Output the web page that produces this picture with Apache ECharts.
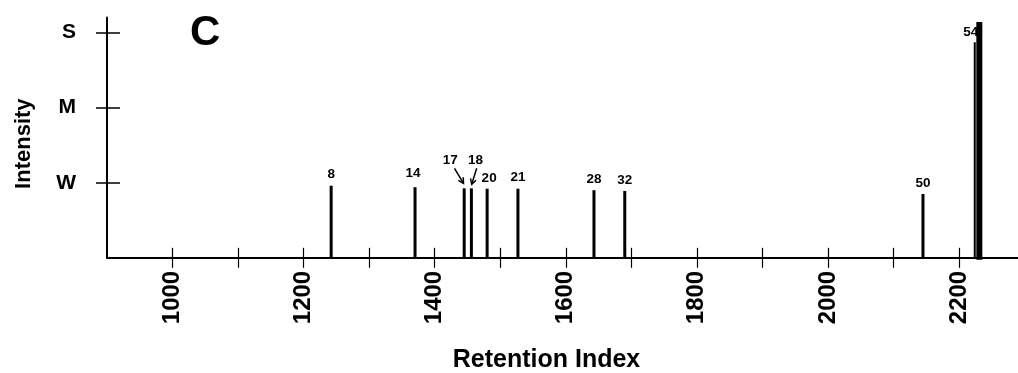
<!DOCTYPE html>
<html>
<head>
<meta charset="utf-8">
<script src="https://cdn.jsdelivr.net/npm/echarts@6/dist/echarts.min.js"></script>
<style>
html,body{margin:0;padding:0;background:#fff;}
#chart{width:1018px;height:373px;}
</style>
</head>
<body>
<div id="chart"></div>
<script>
// ---- data ----
const peakIds        = ['8', '14', '17', '18', '20', '21', '28', '32', '50', '54'];
const retentionIndex = [1242, 1370, 1445, 1456, 1480, 1527, 1643, 1690, 2145, 2224];
const intensity      = [0.96, 0.94, 0.925, 0.925, 0.92, 0.92, 0.90, 0.89, 0.85, 2.87];
const bandRI         = [2231];
const bandIntensity  = [3.14];
const intensityLevels = [1, 2, 3];
const intensityNames  = ['W', 'M', 'S'];
const xTickValues  = [1000, 1100, 1200, 1300, 1400, 1500, 1600, 1700, 1800, 1900, 2000, 2100, 2200];
const xLabelValues = [1000, 1200, 1400, 1600, 1800, 2000, 2200];

// ---- styling of peak labels ----
const labelLayout = {
  '17': { dx: -14, dy: -28, arrow: [-9.7, -20, -0.7, -5] },
  '18': { dx: 4, dy: -28, arrow: [5.3, -20, 0.3, -4] },
  '20': { dx: 2, dy: -10 },
  '14': { dx: -2, dy: -14 },
  '54': { dx: -4, dy: -10, w: 2 }
};
const FONT = '"Liberation Sans", Arial, Helvetica, sans-serif';

function renderPeak(params, api) {
  const i = params.dataIndex;
  const x = api.value(0), y = api.value(1);
  const base = api.coord([x, 0]);
  const top = api.coord([x, y]);
  const id = peakIds[i];
  const lay = labelLayout[id] || {};
  const dx = lay.dx !== undefined ? lay.dx : 0;
  const dy = lay.dy !== undefined ? lay.dy : -11;
  const children = [
    { type: 'line', shape: { x1: base[0], y1: base[1], x2: top[0], y2: top[1] },
      style: { stroke: '#000', lineWidth: lay.w || 3 } },
    { type: 'text', x: top[0] + dx, y: top[1] + dy,
      style: { text: id, font: 'bold 13.5px ' + FONT, fill: '#000', align: 'center', verticalAlign: 'middle' } }
  ];
  if (lay.arrow) {
    const [a1, b1, a2, b2] = lay.arrow;
    const x1 = top[0] + a1, y1 = top[1] + b1, x2 = top[0] + a2, y2 = top[1] + b2;
    const ang = Math.atan2(y2 - y1, x2 - x1);
    const L = 6, h = 0.5;
    children.push({ type: 'line', shape: { x1, y1, x2, y2 }, style: { stroke: '#000', lineWidth: 1.5 } });
    children.push({ type: 'polyline', shape: { points: [
      [x2 - L * Math.cos(ang - h), y2 - L * Math.sin(ang - h)],
      [x2, y2],
      [x2 - L * Math.cos(ang + h), y2 - L * Math.sin(ang + h)]
    ] }, style: { stroke: '#000', lineWidth: 1.5, fill: null } });
  }
  return { type: 'group', children };
}

function renderBand(params, api) {
  const x = api.value(0), y = api.value(1);
  const base = api.coord([x, 0]);
  const top = api.coord([x, y]);
  return { type: 'rect', shape: { x: base[0] - 3, y: top[1], width: 6, height: base[1] - top[1] + 2 },
           style: { fill: '#000' } };
}

const chart = echarts.init(document.getElementById('chart'), null, { renderer: 'canvas' });
const xCommon = { type: 'value', min: 900, max: 2290, interval: 100, splitLine: { show: false } };
const yCommon = { type: 'value', min: 0, max: 3.2, interval: 1, splitLine: { show: false } };

chart.setOption({
  backgroundColor: '#fff',
  animation: false,
  title: {
    text: 'C', left: 185, top: 7,
    textStyle: { fontSize: 42, fontWeight: 'bold', color: '#000', fontFamily: FONT }
  },
  grid: { left: 107, right: 0, top: 17.5, bottom: 115.2, containLabel: false, outerBoundsMode: 'none' },
  xAxis: [
    Object.assign({}, xCommon, {
      position: 'bottom',
      name: 'Retention Index', nameLocation: 'middle', nameGap: 90,
      nameTextStyle: { fontSize: 25, fontWeight: 'bold', color: '#000', fontFamily: FONT, padding: [0, 32, 0, 0] },
      axisLine: { show: true, onZero: false, lineStyle: { color: '#000', width: 2 } },
      axisTick: { show: true, inside: false, length: 10, customValues: xTickValues, lineStyle: { color: '#000', width: 1.2 } },
      axisLabel: { show: true, rotate: 90, margin: 13, customValues: xLabelValues,
                   formatter: v => String(v),
                   fontSize: 24, fontWeight: 'bold', color: '#000', fontFamily: FONT }
    }),
    Object.assign({}, xCommon, {
      position: 'bottom',
      axisLine: { show: false },
      axisTick: { show: true, inside: true, length: 10, customValues: xTickValues, lineStyle: { color: '#000', width: 1.2 } },
      axisLabel: { show: false }
    })
  ],
  yAxis: [
    Object.assign({}, yCommon, {
      position: 'left',
      name: 'Intensity', nameLocation: 'middle', nameGap: 72, nameRotate: 90,
      nameTextStyle: { fontSize: 22, fontWeight: 'bold', color: '#000', fontFamily: FONT, padding: [0, 12, 0, 0] },
      axisLine: { show: true, onZero: false, lineStyle: { color: '#000', width: 2 } },
      axisTick: { show: true, inside: false, length: 11, customValues: intensityLevels, lineStyle: { color: '#000', width: 1.5 } },
      axisLabel: { show: true, margin: 31, customValues: intensityLevels,
                   formatter: v => intensityNames[intensityLevels.indexOf(v)] || '',
                   fontSize: 21, fontWeight: 'bold', color: '#000', fontFamily: FONT }
    }),
    Object.assign({}, yCommon, {
      position: 'left',
      axisLine: { show: false },
      axisTick: { show: true, inside: true, length: 13, customValues: intensityLevels, lineStyle: { color: '#000', width: 1.5 } },
      axisLabel: { show: false }
    })
  ],
  series: [
    {
      type: 'custom', name: 'peaks', xAxisIndex: 0, yAxisIndex: 0,
      renderItem: renderPeak,
      data: retentionIndex.map((v, i) => [v, intensity[i]]),
      encode: { x: 0, y: 1 }, z: 3
    },
    {
      type: 'custom', name: 'band', xAxisIndex: 0, yAxisIndex: 0,
      renderItem: renderBand,
      data: bandRI.map((v, i) => [v, bandIntensity[i]]),
      encode: { x: 0, y: 1 }, z: 4
    }
  ]
});
</script>
</body>
</html>
